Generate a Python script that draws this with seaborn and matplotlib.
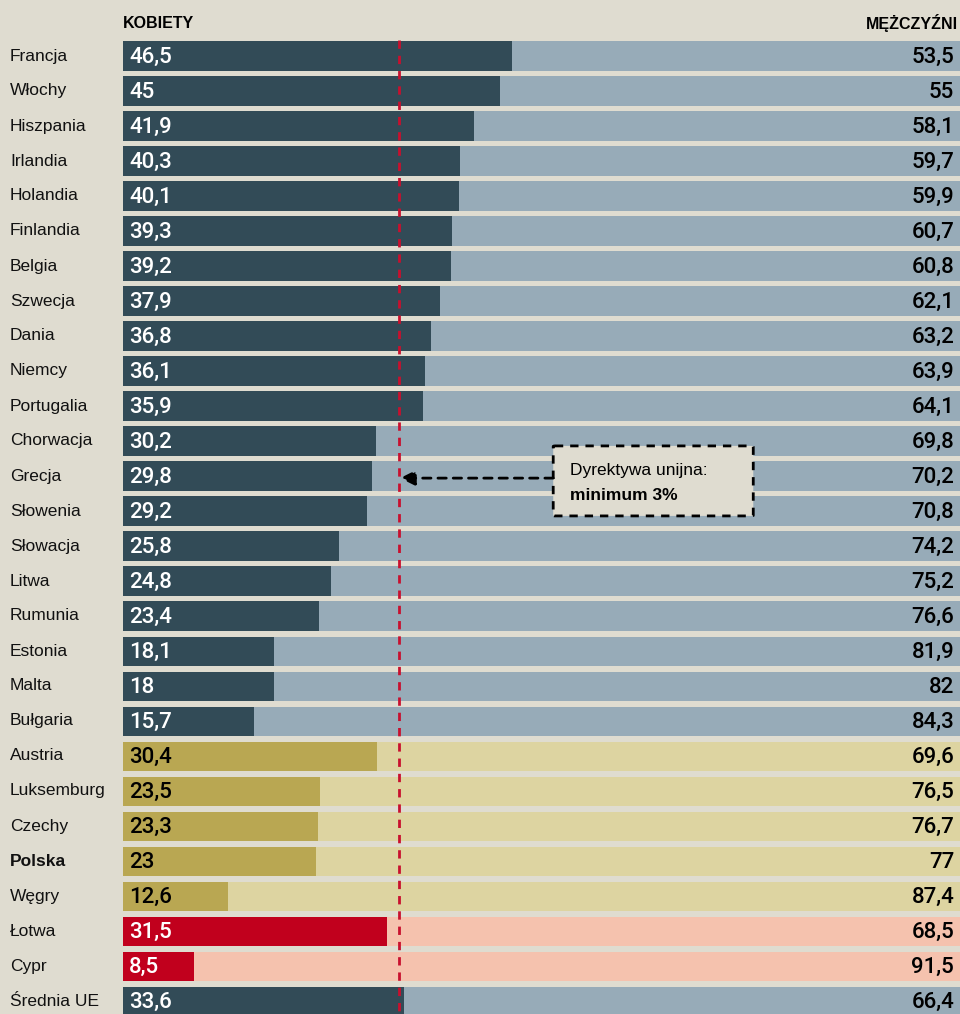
import matplotlib
matplotlib.use("Agg")
import matplotlib.pyplot as plt
import seaborn as sns
import pandas as pd
from matplotlib.patches import FancyBboxPatch

countries = ["Francja", "Włochy", "Hiszpania", "Irlandia", "Holandia", "Finlandia",
             "Belgia", "Szwecja", "Dania", "Niemcy", "Portugalia", "Chorwacja",
             "Grecja", "Słowenia", "Słowacja", "Litwa", "Rumunia", "Estonia",
             "Malta", "Bułgaria", "Austria", "Luksemburg", "Czechy", "Polska",
             "Węgry", "Łotwa", "Cypr", "Średnia UE"]
women = [46.5, 45, 41.9, 40.3, 40.1, 39.3, 39.2, 37.9, 36.8, 36.1, 35.9, 30.2,
         29.8, 29.2, 25.8, 24.8, 23.4, 18.1, 18, 15.7, 30.4, 23.5, 23.3, 23,
         12.6, 31.5, 8.5, 33.6]
men = [53.5, 55, 58.1, 59.7, 59.9, 60.7, 60.8, 62.1, 63.2, 63.9, 64.1, 69.8,
       70.2, 70.8, 74.2, 75.2, 76.6, 81.9, 82, 84.3, 69.6, 76.5, 76.7, 77,
       87.4, 68.5, 91.5, 66.4]
groups = ["eu"] * 20 + ["gold"] * 5 + ["red"] * 2 + ["eu"]
directive = 33

dark = {"eu": "#324b57", "gold": "#b9a752", "red": "#c1001d"}
light = {"eu": "#97abb8", "gold": "#ddd4a1", "red": "#f5c2ae"}
txt = {"eu": "white", "gold": "black", "red": "white"}
bg = "#dfdcd0"

df = pd.DataFrame({"kraj": countries, "kobiety": women, "mezczyzni": men, "grupa": groups})
df["razem"] = df["kobiety"] + df["mezczyzni"]

fig = plt.figure(figsize=(9.6, 10.14), dpi=100, facecolor=bg)
ax = fig.add_axes([123 / 960, 0, 1 - 123 / 960, (1014 - 38) / 1014])
ax.set_facecolor(bg)

sns.barplot(data=df, x="razem", y="kraj", hue="kraj", orient="h",
            palette=[light[g] for g in groups], width=0.83, legend=False, ax=ax,
            saturation=1)
sns.barplot(data=df, x="kobiety", y="kraj", hue="kraj", orient="h",
            palette=[dark[g] for g in groups], width=0.83, legend=False, ax=ax,
            saturation=1)

ax.set_xlim(0, 100)
ax.set_ylim(27.37, -0.514)
ax.axis("off")

val_font = ["Roboto", "DejaVu Sans"]
fs_val = 16
for i, row in df.iterrows():
    ax.text(0.75, i + 0.03, f"{row.kobiety:g}".replace(".", ","), color=txt[row.grupa],
            fontsize=fs_val, fontweight="medium", va="center", ha="left",
            family=val_font)
    ax.text(99.3, i + 0.03, f"{row.mezczyzni:g}".replace(".", ","), color="black",
            fontsize=fs_val, fontweight="medium", va="center", ha="right",
            family=val_font)
    fig.text(10 / 960, 1 - (56 + 35 * i) / 1014, row.kraj, fontsize=12.5,
             fontweight="bold" if row.kraj == "Polska" else "normal",
             va="center", ha="left", family="Liberation Sans", color="#111111")

fig.text(123 / 960, 1 - 23 / 1014, "KOBIETY", fontsize=11.5, fontweight="bold",
         va="center", ha="left", family="Liberation Sans")
fig.text(958 / 960, 1 - 23 / 1014, "MĘŻCZYŹNI", fontsize=11.5, fontweight="bold",
         va="center", ha="right", family="Liberation Sans")

ax.plot([directive, directive], [-0.45, 27.4], color="#c8102e", lw=2,
        ls=(0, (3, 2.5)), zorder=5)

box = FancyBboxPatch((51.4, 11.14), 23.9, 2.0, boxstyle="round,pad=0,rounding_size=0.2",
                     facecolor=bg, edgecolor="black", lw=2, ls=(0, (3, 2.5)), zorder=6,
                     mutation_aspect=0.1)
ax.add_patch(box)
ax.text(53.4, 11.85, "Dyrektywa unijna:", fontsize=12.5, va="center", ha="left",
        family="Liberation Sans", zorder=7)
ax.text(53.4, 12.55, "minimum 3%", fontsize=12.5, fontweight="bold", va="center",
        ha="left", family="Liberation Sans", zorder=7)
ax.annotate("", xy=(directive + 0.1, 12.06), xytext=(51.4, 12.06),
            arrowprops=dict(arrowstyle="-|>", color="black", lw=2, ls=(0, (3, 2.5)),
                            mutation_scale=22, shrinkA=0, shrinkB=0), zorder=7)

fig.savefig("out.png", dpi=100, facecolor=bg)
